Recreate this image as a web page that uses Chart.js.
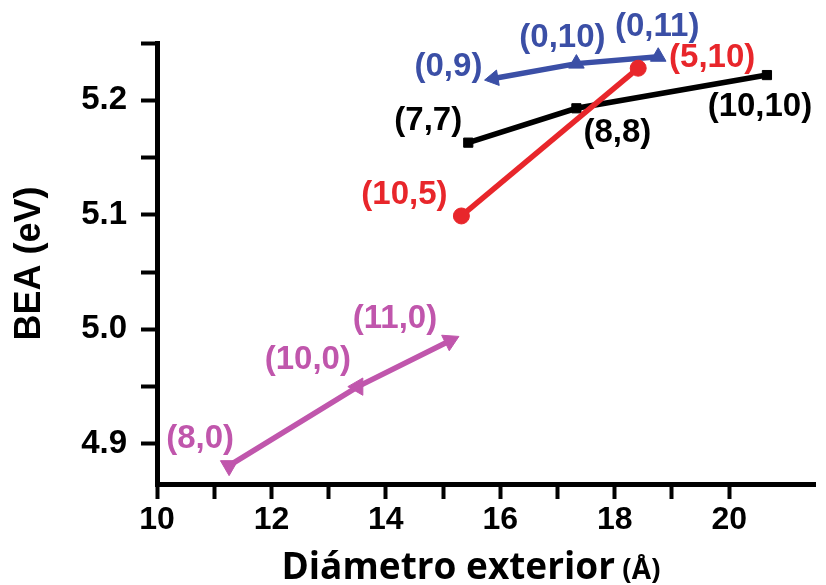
<!DOCTYPE html>
<html>
<head>
<meta charset="utf-8">
<script src="https://cdn.jsdelivr.net/npm/chart.js@4.4.1/dist/chart.umd.min.js"></script>
<style>
  html, body { margin: 0; padding: 0; background: #fff; }
  #wrap { width: 826px; height: 585px; position: relative; }
</style>
</head>
<body>
<div id="wrap"><canvas id="grafico"></canvas></div>
<script>
// Datos
const zigzagEtiquetas = ['(8,0)', '(10,0)', '(11,0)'];
const zigzagDiam = [11.26, 13.51, 15.12];
const zigzagBea = [4.881, 4.950, 4.990];

const quiralEtiquetas = ['(10,5)', '(5,10)'];
const quiralDiam = [15.32, 18.41];
const quiralBea = [5.099, 5.228];

const armchairEtiquetas = ['(7,7)', '(8,8)', '(10,10)'];
const armchairDiam = [15.44, 17.33, 20.66];
const armchairBea = [5.163, 5.193, 5.222];

const zigzag2Etiquetas = ['(0,9)', '(0,10)', '(0,11)'];
const zigzag2Diam = [15.88, 17.33, 18.76];
const zigzag2Bea = [5.219, 5.232, 5.238];

const xTicks = [10, 12, 14, 16, 18, 20];
const yTicks = [4.9, 5.0, 5.1, 5.2];

const FUENTE = "'Liberation Sans', Arial, sans-serif";
const MORADO = '#c056ac';
const AZUL = '#3b4fa6';
const ROJO = '#e8262b';
const NEGRO = '#000000';

function puntos(xs, ys) {
    return xs.map((x, i) => ({ x: x, y: ys[i] }));
}

// desplazamiento de cada etiqueta respecto a su punto (px)
const desplazamientos = [
    [[-29, -27], [-50, -27], [-55, -22]],
    [[-57, -21], [74, -10]],
    [[-40, -22], [41, 25], [-7, 32]],
    [[-45, -12], [-14, -26], [-1, -30]]
];

const etiquetasPlugin = {
    id: 'etiquetas',
    afterDatasetsDraw(chart) {
        const ctx = chart.ctx;
        ctx.save();
        ctx.font = 'bold 33px ' + FUENTE;
        ctx.textAlign = 'center';
        ctx.textBaseline = 'middle';
        chart.data.datasets.forEach((ds, d) => {
            const meta = chart.getDatasetMeta(d);
            ctx.fillStyle = ds.borderColor;
            meta.data.forEach((el, i) => {
                const off = desplazamientos[d][i];
                ctx.fillText(ds.etiquetas[i], el.x + off[0], el.y + off[1]);
            });
        });
        ctx.restore();
    }
};

// título del eje x con "(Å)" más pequeño
const tituloXPlugin = {
    id: 'tituloX',
    afterDraw(chart) {
        const ctx = chart.ctx;
        const t1 = 'Diámetro exterior';
        const t2 = ' (Å)';
        const f1 = "bold 37px 'Open Sans', sans-serif";
        const f2 = "bold 28px 'Open Sans', sans-serif";
        ctx.save();
        ctx.fillStyle = '#000';
        ctx.textBaseline = 'alphabetic';
        ctx.textAlign = 'left';
        ctx.font = f1;
        const w1 = ctx.measureText(t1).width;
        ctx.font = f2;
        const w2 = ctx.measureText(t2).width;
        const x0 = 471 - (w1 + w2) / 2;
        ctx.font = f1;
        ctx.fillText(t1, x0, 579);
        ctx.font = f2;
        ctx.fillText(t2, x0 + w1, 579);
        ctx.restore();
    }
};

const ctx = document.getElementById('grafico').getContext('2d');

function serie(etq, xs, ys, color, estilo, radio, rot) {
    return {
        etiquetas: etq,
        data: puntos(xs, ys),
        borderColor: color,
        backgroundColor: color,
        borderWidth: 5.5,
        pointStyle: estilo,
        pointRadius: radio,
        pointRotation: rot,
        pointBorderWidth: 1,
        showLine: true,
        clip: false
    };
}

new Chart(ctx, {
    type: 'scatter',
    data: {
        datasets: [
            serie(zigzagEtiquetas, zigzagDiam, zigzagBea, MORADO, 'triangle', 10, [180, 150, 64]),
            serie(quiralEtiquetas, quiralDiam, quiralBea, ROJO, 'circle', 8, 0),
            serie(armchairEtiquetas, armchairDiam, armchairBea, NEGRO, 'rect', 6.5, 0),
            serie(zigzag2Etiquetas, zigzag2Diam, zigzag2Bea, AZUL, 'triangle', 9, [-100, 0, 0])
        ]
    },
    options: {
        responsive: true,
        maintainAspectRatio: false,
        animation: false,
        layout: { padding: { top: 43, right: 11, left: 0, bottom: 0 } },
        plugins: {
            legend: { display: false },
            tooltip: { enabled: false }
        },
        scales: {
            x: {
                type: 'linear',
                min: 10,
                max: 21.5,
                afterFit(scale) { scale.height = 101; },
                afterBuildTicks(scale) {
                    scale.ticks = scale.ticks.filter(t => Number.isInteger(t.value));
                },
                border: { color: '#000', width: 5 },
                grid: {
                    drawOnChartArea: false,
                    drawTicks: true,
                    tickLength: 15,
                    tickWidth: 4,
                    tickColor: '#000'
                },
                ticks: {
                    stepSize: 1,
                    autoSkip: false,
                    maxRotation: 0,
                    padding: 2,
                    color: '#000',
                    font: { size: 32, weight: 'bold', family: FUENTE },
                    callback: v => xTicks.includes(v) ? String(v) : ''
                }
            },
            y: {
                type: 'linear',
                min: 4.865,
                max: 5.25,
                afterFit(scale) { scale.width = 157; },
                afterBuildTicks(scale) {
                    scale.ticks = scale.ticks.filter(t => Math.abs(t.value * 20 - Math.round(t.value * 20)) < 1e-6);
                },
                border: { color: '#000', width: 5 },
                grid: {
                    drawOnChartArea: false,
                    drawTicks: true,
                    tickLength: 16,
                    tickWidth: 4,
                    tickColor: '#000'
                },
                ticks: {
                    stepSize: 0.05,
                    autoSkip: false,
                    padding: 14,
                    color: '#000',
                    font: { size: 33, weight: 'bold', family: FUENTE },
                    callback: v => yTicks.some(t => Math.abs(t - v) < 1e-6) ? v.toFixed(1) : ''
                },
                title: {
                    display: true,
                    text: 'BEA (eV)',
                    color: '#000',
                    padding: { top: 8, bottom: 0 },
                    font: { size: 36, weight: 'bold', family: FUENTE }
                }
            }
        }
    },
    plugins: [etiquetasPlugin, tituloXPlugin]
});
</script>
</body>
</html>
